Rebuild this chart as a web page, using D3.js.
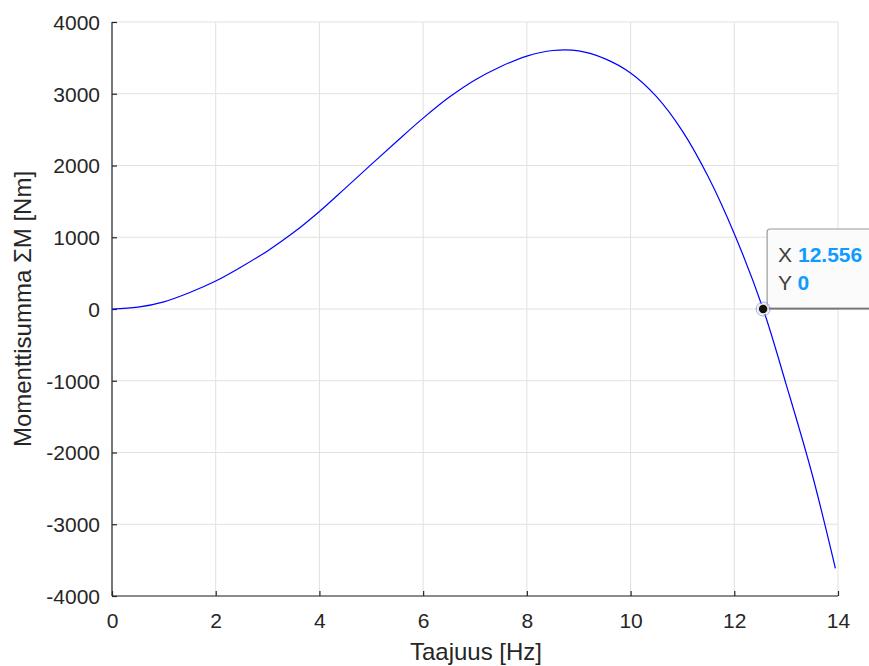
<!DOCTYPE html>
<html>
<head>
<meta charset="utf-8">
<script src="https://cdn.jsdelivr.net/npm/d3@7"></script>
<style>
  html, body { margin: 0; padding: 0; background: #ffffff; }
  svg { display: block; font-family: "Liberation Sans", Arial, Helvetica, sans-serif; }
</style>
</head>
<body>
<svg id="chart" width="869" height="666"></svg>
<script>
// ---- data ----
const freqHz = [0, 0.5, 1, 1.5, 2, 2.5, 3, 3.5, 4, 4.5, 5, 5.5, 6, 6.5, 7, 7.5, 8, 8.5, 9, 9.5, 10, 10.5, 11, 11.5, 12, 12.556, 13, 13.5, 13.95];
const momentNm = [0, 25, 100, 230, 390, 590, 810, 1065, 1360, 1685, 2015, 2342, 2660, 2950, 3192, 3380, 3525, 3603, 3598, 3490, 3290, 2960, 2480, 1840, 1050, 0, -1050, -2300, -3615];
const xTicks = [0, 2, 4, 6, 8, 10, 12, 14];
const yTicks = [-4000, -3000, -2000, -1000, 0, 1000, 2000, 3000, 4000];
const xLabel = "Taajuus [Hz]";
const yLabel = "Momenttisumma \u03A3M [Nm]";
const tipX = 12.556;
const tipY = 0;

// ---- layout ----
const svg = d3.select("#chart");
const pL = 112, pR = 838, pT = 22, pB = 596;
const x = d3.scaleLinear().domain([0, 14]).range([pL, pR]);
const y = d3.scaleLinear().domain([-4000, 4000]).range([pB, pT]);
const textColor = "#262626";
const fmt = d => String(d);

// grid
const grid = svg.append("g");
grid.selectAll("line.gx").data(xTicks).join("line")
  .attr("x1", d => x(d)).attr("x2", d => x(d))
  .attr("y1", pT).attr("y2", pB)
  .attr("stroke", "#e1e1e1").attr("stroke-width", 1);
grid.selectAll("line.gy").data(yTicks).join("line")
  .attr("x1", pL).attr("x2", pR)
  .attr("y1", d => y(d)).attr("y2", d => y(d))
  .attr("stroke", "#e1e1e1").attr("stroke-width", 1);

// axes
const xAxis = d3.axisBottom(x).tickValues(xTicks).tickSize(-5).tickFormat(fmt);
const yAxis = d3.axisLeft(y).tickValues(yTicks).tickSize(-5).tickFormat(fmt);

const gx = svg.append("g").attr("transform", `translate(0,${pB})`).call(xAxis);
const gy = svg.append("g").attr("transform", `translate(${pL},0)`).call(yAxis);
[gx, gy].forEach(g => {
  g.select(".domain").attr("stroke", textColor).attr("stroke-width", 1.2);
  g.selectAll(".tick line").attr("stroke", textColor).attr("stroke-width", 1.2);
  g.selectAll(".tick text").attr("fill", textColor).style("font-size", "21px")
    .style("font-family", "'Liberation Sans', Arial, sans-serif");
});
gx.select(".domain").attr("d", `M${pL},0H${pR}`);
gy.select(".domain").attr("d", `M0,${pT}V${pB}`);
gx.selectAll(".tick text").attr("dy", "0.71em").attr("y", 17);
gy.selectAll(".tick text").attr("dy", "0.35em").attr("x", -12);

// axis labels
svg.append("text")
  .attr("x", 476)
  .attr("y", 660)
  .attr("text-anchor", "middle")
  .attr("fill", textColor)
  .style("font-size", "24px")
  .text(xLabel);
svg.append("text")
  .attr("transform", `translate(31,${(pT + pB) / 2}) rotate(-90)`)
  .attr("text-anchor", "middle")
  .attr("fill", textColor)
  .style("font-size", "24px")
  .text(yLabel);

// curve
const pts = freqHz.map((f, i) => [f, momentNm[i]]);
const line = d3.line().x(d => x(d[0])).y(d => y(d[1])).curve(d3.curveCatmullRom.alpha(0.5));
svg.append("path")
  .attr("d", line(pts))
  .attr("fill", "none")
  .attr("stroke", "#0000ff")
  .attr("stroke-width", 1.2);

// data tip
const tx = x(tipX), ty = y(tipY);
const tip = svg.append("g");
tip.append("rect")
  .attr("x", tx + 4).attr("y", ty - 80)
  .attr("width", 140).attr("height", 79)
  .attr("rx", 3)
  .attr("fill", "#fbfbfb")
  .attr("stroke", "#9a9a9a")
  .attr("stroke-width", 1.2);
tip.append("line")
  .attr("x1", tx + 5).attr("x2", tx + 150)
  .attr("y1", ty - 0.2).attr("y2", ty - 0.2)
  .attr("stroke", "#5a5a5a").attr("stroke-width", 1.2);
const t1 = tip.append("text").attr("x", tx + 15).attr("y", ty - 47).style("font-size", "21px");
t1.append("tspan").attr("fill", "#404040").text("X ");
t1.append("tspan").attr("fill", "#0f9bff").attr("font-weight", "bold").text(d3.format(".3f")(tipX));
const t2 = tip.append("text").attr("x", tx + 15).attr("y", ty - 19).style("font-size", "21px");
t2.append("tspan").attr("fill", "#404040").text("Y ");
t2.append("tspan").attr("fill", "#0f9bff").attr("font-weight", "bold").text(String(tipY));

tip.append("circle").attr("cx", tx).attr("cy", ty).attr("r", 7)
  .attr("fill", "none").attr("stroke", "#8080ff").attr("stroke-width", 1).attr("opacity", 0.7);
tip.append("circle").attr("cx", tx).attr("cy", ty).attr("r", 5)
  .attr("fill", "#111111").attr("stroke", "#ecebd6").attr("stroke-width", 1.6);
</script>
</body>
</html>
